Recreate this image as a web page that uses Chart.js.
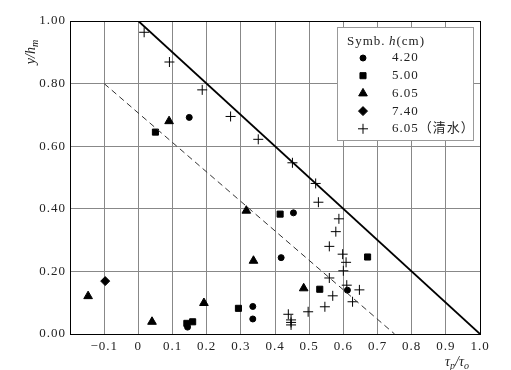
<!DOCTYPE html>
<html>
<head>
<meta charset="utf-8">
<script src="https://cdn.jsdelivr.net/npm/chart.js@4/dist/chart.umd.min.js"></script>
<style>
  html, body { margin: 0; padding: 0; background: #fff; }
  #wrap { width: 511px; height: 370px; position: relative; }
</style>
</head>
<body>
<div id="wrap"><canvas id="chart"></canvas></div>
<script>
// series, [tau_p/tau_o, y/h_m]
const dots420 = [[0.149, 0.692], [0.454, 0.387], [0.418, 0.244], [0.612, 0.140], [0.335, 0.088], [0.335, 0.048], [0.144, 0.022]];
const squares500 = [[0.050, 0.645], [0.415, 0.383], [0.671, 0.246], [0.531, 0.143], [0.293, 0.082], [0.142, 0.034], [0.159, 0.039]];
const triangles605 = [[0.090, 0.680], [0.316, 0.394], [0.337, 0.234], [0.484, 0.146], [-0.147, 0.121], [0.040, 0.039], [0.192, 0.099]];
const diamonds740 = [[-0.097, 0.169]];
const plusClear605 = [
    [0.017, 0.964], [0.091, 0.869], [0.187, 0.780], [0.270, 0.695], [0.351, 0.622],
    [0.451, 0.547], [0.519, 0.481], [0.527, 0.421], [0.587, 0.368], [0.578, 0.327],
    [0.559, 0.280], [0.598, 0.255], [0.608, 0.229], [0.600, 0.202], [0.559, 0.179],
    [0.610, 0.156], [0.647, 0.141], [0.569, 0.122], [0.627, 0.103], [0.546, 0.087],
    [0.497, 0.071], [0.439, 0.063], [0.447, 0.045], [0.447, 0.037], [0.447, 0.029]
];
const upperLine = [[0, 1.0], [1.0, 0]];
const lowerLine = [[-0.1, 0.8], [0.75, 0]];

const legendTitle = 'Symb.';
const legendLabels = ['4.20', '5.00', '6.05', '7.40', '6.05（清水）'];
const legendStyles = ['circle', 'rect', 'triangle', 'rectRot', 'cross'];
const legendRadii = [3, 4.3, 5, 4.5, 5];

const SERIF = '"Liberation Serif", "DejaVu Serif", "Noto Sans CJK SC", serif';

function toPts(arr) {
    return arr.map(p => ({ x: p[0], y: p[1] }));
}

function markerSet(label, arr, style, radius) {
    return {
        label: label,
        data: toPts(arr),
        pointStyle: style,
        pointRadius: radius,
        pointHoverRadius: radius,
        backgroundColor: '#000',
        borderColor: '#000',
        borderWidth: 1,
        showLine: false
    };
}

// draws text runs like [{t:'y/h'}, {t:'m', sub:true}] centred at x,y
function drawRuns(ctx, runs, cx, cy, size) {
    const fonts = runs.map(r => 'italic ' + (r.sub ? Math.round(size * 0.7) : size) + 'px ' + SERIF);
    let total = 0;
    const widths = runs.map((r, i) => { ctx.font = fonts[i]; const w = ctx.measureText(r.t).width; total += w; return w; });
    let x = cx - total / 2;
    ctx.textBaseline = 'middle';
    ctx.textAlign = 'left';
    runs.forEach((r, i) => {
        ctx.font = fonts[i];
        ctx.fillText(r.t, x, cy + (r.sub ? size * 0.3 : 0));
        x += widths[i];
    });
}

const decorPlugin = {
    id: 'decor',
    beforeDraw(chart) {
        // the original uses a wide, loosely spaced font for numbers
        chart.ctx.letterSpacing = '1px';
    },
    afterDraw(chart) {
        const ctx = chart.ctx;
        const a = chart.chartArea;
        ctx.save();
        // frame
        ctx.strokeStyle = '#000';
        ctx.lineWidth = 1;
        ctx.strokeRect(Math.round(a.left) + 0.5, Math.round(a.top) + 0.5, Math.round(a.right - a.left), Math.round(a.bottom - a.top));

        // axis titles
        ctx.letterSpacing = '0px';
        ctx.fillStyle = '#222';
        ctx.save();
        ctx.translate(31, 52);
        ctx.rotate(-Math.PI / 2);
        drawRuns(ctx, [{ t: 'y/h' }, { t: 'm', sub: true }], 0, 0, 14);
        ctx.restore();
        drawRuns(ctx, [{ t: 'τ' }, { t: 'p', sub: true }, { t: '/τ' }, { t: 'o', sub: true }], 457, 362, 14);

        // legend box
        const bx = 337, by = 27, bw = 136, bh = 113;
        ctx.fillStyle = '#fff';
        ctx.fillRect(bx, by, bw, bh);
        ctx.strokeStyle = '#999';
        ctx.strokeRect(bx + 0.5, by + 0.5, bw, bh);

        ctx.letterSpacing = '1px';
        ctx.fillStyle = '#222';
        ctx.textBaseline = 'middle';
        ctx.textAlign = 'left';
        ctx.font = '13px ' + SERIF;
        ctx.fillText(legendTitle, 347, 42);
        ctx.font = 'italic 13px ' + SERIF;
        ctx.fillText('h', 389, 42);
        const hw = ctx.measureText('h').width;
        ctx.font = '13px ' + SERIF;
        ctx.fillText('(cm)', 389 + hw, 42);

        legendLabels.forEach((lab, i) => {
            const yy = 58 + i * 17.7;
            ctx.fillStyle = '#000';
            ctx.strokeStyle = '#000';
            ctx.lineWidth = 1;
            Chart.helpers.drawPoint(ctx, { pointStyle: legendStyles[i], radius: legendRadii[i], borderWidth: 1 }, 363, yy);
            ctx.fillStyle = '#222';
            ctx.font = '13px ' + SERIF;
            ctx.fillText(lab, 392, yy);
        });
        ctx.restore();
    }
};

const ctx = document.getElementById('chart').getContext('2d');
new Chart(ctx, {
    type: 'scatter',
    data: {
        datasets: [
            {
                label: 'upper',
                data: toPts(upperLine),
                showLine: true,
                borderColor: '#000',
                borderWidth: 1.8,
                pointRadius: 0
            },
            {
                label: 'lower',
                data: toPts(lowerLine),
                showLine: true,
                borderColor: '#333',
                borderWidth: 1,
                borderDash: [6, 4],
                pointRadius: 0
            },
            markerSet('4.20', dots420, 'circle', 3),
            markerSet('5.00', squares500, 'rect', 4.3),
            markerSet('6.05', triangles605, 'triangle', 5),
            markerSet('7.40', diamonds740, 'rectRot', 4.5),
            markerSet('6.05 clear', plusClear605, 'cross', 5)
        ]
    },
    options: {
        responsive: true,
        maintainAspectRatio: false,
        animation: false,
        layout: { padding: { top: 21, right: 31, left: 0, bottom: 0 } },
        plugins: {
            legend: { display: false },
            tooltip: { enabled: false }
        },
        scales: {
            x: {
                type: 'linear',
                min: -0.2,
                max: 1.0,
                afterFit: s => { s.height = 36; },
                grid: { color: '#888', lineWidth: 1, drawTicks: false },
                border: { color: '#000' },
                ticks: {
                    stepSize: 0.1,
                    padding: 5,
                    color: '#222',
                    font: { family: SERIF, size: 13 },
                    maxRotation: 0,
                    callback: function(v) {
                        const r = Math.round(v * 10) / 10;
                        if (r === -0.2) return '';
                        if (r === 0) return '0';
                        return (r < 0 ? '−' : '') + Math.abs(r).toFixed(1);
                    }
                }
            },
            y: {
                type: 'linear',
                min: 0,
                max: 1.0,
                afterFit: s => { s.width = 70; },
                grid: { color: '#888', lineWidth: 1, drawTicks: false },
                border: { color: '#000' },
                ticks: {
                    stepSize: 0.2,
                    padding: 4,
                    color: '#222',
                    font: { family: SERIF, size: 13 },
                    callback: v => v.toFixed(2)
                }
            }
        }
    },
    plugins: [decorPlugin]
});
</script>
</body>
</html>
